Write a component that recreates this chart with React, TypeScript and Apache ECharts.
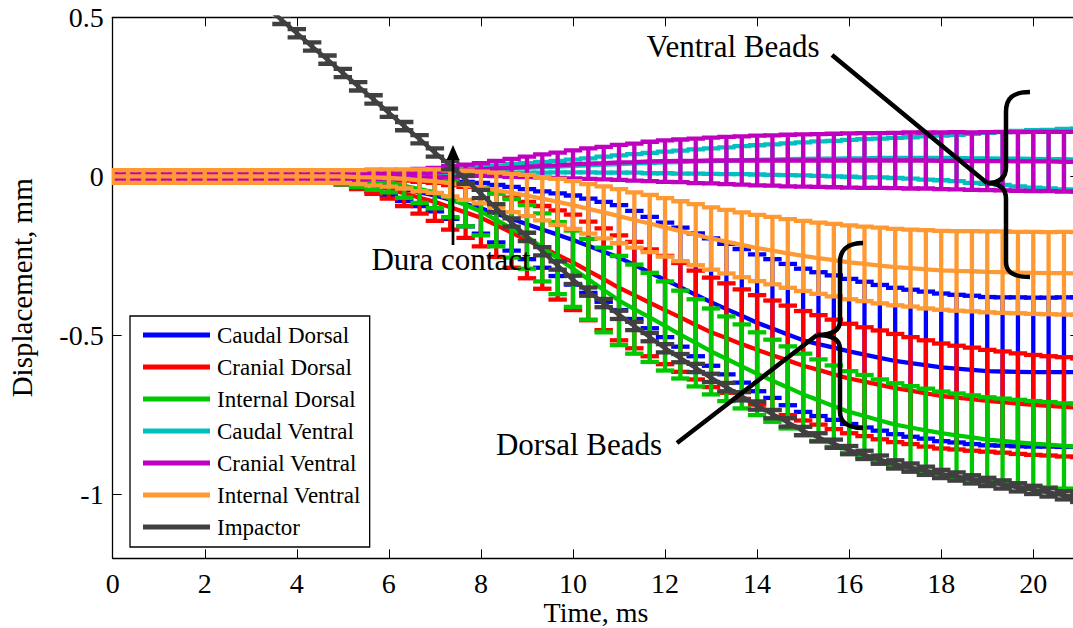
import React, { useEffect, useRef } from "react";
import * as echarts from "echarts";

const FONT = "Liberation Serif";

const TIME = [
  0, 0.333, 0.667, 1, 1.333, 1.667, 2, 2.333, 2.667, 3, 3.333, 3.667,
  4, 4.333, 4.667, 5, 5.333, 5.667, 6, 6.333, 6.667, 7, 7.333, 7.667,
  8, 8.333, 8.667, 9, 9.333, 9.667, 10, 10.333, 10.667, 11, 11.333, 11.667,
  12, 12.333, 12.667, 13, 13.333, 13.667, 14, 14.333, 14.667, 15, 15.333, 15.667,
  16, 16.333, 16.667, 17, 17.333, 17.667, 18, 18.333, 18.667, 19, 19.333, 19.667,
  20, 20.333, 20.667, 21,
];

const CAUDAL_DORSAL_MEAN = [
  0, 0, 0, 0, 0, 0, 0, 0, 0, 0, 0, 0,
  0, -0.003, -0.006, -0.01, -0.016, -0.023, -0.03, -0.04, -0.05, -0.06, -0.073, -0.087,
  -0.1, -0.117, -0.133, -0.15, -0.167, -0.183, -0.2, -0.218, -0.237, -0.255, -0.278, -0.302,
  -0.325, -0.348, -0.372, -0.395, -0.417, -0.438, -0.46, -0.478, -0.497, -0.515, -0.527, -0.538,
  -0.55, -0.56, -0.57, -0.58, -0.587, -0.593, -0.6, -0.604, -0.608, -0.612, -0.613, -0.614,
  -0.615, -0.615, -0.615, -0.615,
];
const CAUDAL_DORSAL_SD = [
  0.01, 0.01, 0.01, 0.01, 0.01, 0.01, 0.01, 0.01, 0.01, 0.01, 0.01, 0.01,
  0.01, 0.012, 0.013, 0.015, 0.02, 0.025, 0.03, 0.037, 0.043, 0.05, 0.06, 0.07,
  0.08, 0.09, 0.1, 0.11, 0.12, 0.13, 0.14, 0.148, 0.157, 0.165, 0.17, 0.175,
  0.18, 0.187, 0.193, 0.2, 0.205, 0.21, 0.215, 0.218, 0.222, 0.225, 0.226, 0.227,
  0.228, 0.229, 0.229, 0.23, 0.231, 0.231, 0.232, 0.232, 0.233, 0.233, 0.233, 0.234,
  0.234, 0.234, 0.235, 0.235,
];

const CRANIAL_DORSAL_MEAN = [
  0, 0, 0, 0, 0, 0, 0, 0, 0, 0, 0, 0,
  0, -0.003, -0.006, -0.01, -0.02, -0.03, -0.04, -0.053, -0.067, -0.08, -0.097, -0.113,
  -0.13, -0.153, -0.177, -0.2, -0.223, -0.247, -0.27, -0.297, -0.323, -0.35, -0.373, -0.397,
  -0.42, -0.443, -0.467, -0.49, -0.508, -0.527, -0.545, -0.562, -0.578, -0.595, -0.608, -0.622,
  -0.635, -0.645, -0.655, -0.665, -0.673, -0.682, -0.69, -0.695, -0.7, -0.705, -0.709, -0.714,
  -0.718, -0.721, -0.724, -0.727,
];
const CRANIAL_DORSAL_SD = [
  0.01, 0.01, 0.01, 0.01, 0.01, 0.01, 0.01, 0.01, 0.01, 0.01, 0.01, 0.01,
  0.01, 0.012, 0.013, 0.015, 0.02, 0.025, 0.03, 0.04, 0.05, 0.06, 0.07, 0.08,
  0.09, 0.1, 0.11, 0.12, 0.13, 0.14, 0.15, 0.155, 0.16, 0.165, 0.167, 0.168,
  0.17, 0.171, 0.171, 0.172, 0.172, 0.172, 0.172, 0.172, 0.172, 0.172, 0.172, 0.172,
  0.172, 0.171, 0.171, 0.17, 0.168, 0.167, 0.165, 0.163, 0.162, 0.16, 0.159, 0.158,
  0.157, 0.156, 0.156, 0.155,
];

const INTERNAL_DORSAL_MEAN = [
  0, 0, 0, 0, 0, 0, 0, 0, 0, 0, 0, 0,
  0, -0.002, -0.003, -0.005, -0.01, -0.015, -0.02, -0.03, -0.04, -0.05, -0.07, -0.09,
  -0.11, -0.137, -0.163, -0.19, -0.223, -0.257, -0.29, -0.323, -0.357, -0.39, -0.417, -0.443,
  -0.47, -0.497, -0.523, -0.55, -0.573, -0.597, -0.62, -0.642, -0.663, -0.685, -0.703, -0.722,
  -0.74, -0.753, -0.767, -0.78, -0.789, -0.798, -0.807, -0.814, -0.82, -0.827, -0.831, -0.836,
  -0.84, -0.843, -0.847, -0.85,
];
const INTERNAL_DORSAL_SD = [
  0.01, 0.01, 0.01, 0.01, 0.01, 0.01, 0.01, 0.01, 0.01, 0.01, 0.01, 0.01,
  0.01, 0.013, 0.017, 0.02, 0.023, 0.027, 0.03, 0.037, 0.043, 0.05, 0.058, 0.067,
  0.075, 0.083, 0.092, 0.1, 0.107, 0.113, 0.12, 0.127, 0.133, 0.14, 0.14, 0.14,
  0.14, 0.138, 0.137, 0.135, 0.133, 0.132, 0.13, 0.129, 0.129, 0.128, 0.128, 0.128,
  0.128, 0.129, 0.129, 0.13, 0.13, 0.131, 0.131, 0.132, 0.132, 0.133, 0.133, 0.134,
  0.134, 0.134, 0.134, 0.134,
];

const CAUDAL_VENTRAL_MEAN = [
  0, 0, 0, 0, 0, 0, 0, 0, 0, 0, 0, 0,
  0, 0, 0, 0, 0.002, 0.003, 0.005, 0.007, 0.01, 0.012, 0.015, 0.017,
  0.02, 0.022, 0.025, 0.027, 0.029, 0.031, 0.033, 0.035, 0.037, 0.039, 0.041, 0.042,
  0.044, 0.045, 0.047, 0.048, 0.049, 0.051, 0.052, 0.053, 0.054, 0.055, 0.056, 0.056,
  0.057, 0.057, 0.058, 0.058, 0.058, 0.058, 0.058, 0.058, 0.057, 0.057, 0.056, 0.056,
  0.055, 0.054, 0.054, 0.053,
];
const CAUDAL_VENTRAL_SD = [
  0.008, 0.008, 0.008, 0.008, 0.008, 0.008, 0.008, 0.008, 0.008, 0.008, 0.008, 0.008,
  0.008, 0.008, 0.008, 0.008, 0.008, 0.008, 0.008, 0.009, 0.009, 0.01, 0.011, 0.011,
  0.012, 0.013, 0.014, 0.015, 0.017, 0.018, 0.02, 0.022, 0.025, 0.027, 0.029, 0.032,
  0.034, 0.036, 0.038, 0.04, 0.042, 0.044, 0.046, 0.048, 0.05, 0.052, 0.054, 0.056,
  0.058, 0.06, 0.061, 0.063, 0.065, 0.068, 0.07, 0.073, 0.077, 0.08, 0.083, 0.087,
  0.09, 0.092, 0.095, 0.097,
];

const CRANIAL_VENTRAL_MEAN = [
  0, 0, 0, 0, 0, 0, 0, 0, 0, 0, 0, 0,
  0, 0, 0, 0, 0.002, 0.003, 0.005, 0.007, 0.01, 0.012, 0.015, 0.019,
  0.022, 0.025, 0.027, 0.03, 0.033, 0.035, 0.038, 0.04, 0.042, 0.044, 0.045, 0.047,
  0.048, 0.049, 0.049, 0.05, 0.05, 0.05, 0.05, 0.05, 0.05, 0.05, 0.05, 0.05,
  0.05, 0.05, 0.05, 0.05, 0.05, 0.05, 0.049, 0.049, 0.048, 0.048, 0.048, 0.047,
  0.047, 0.047, 0.046, 0.046,
];
const CRANIAL_VENTRAL_SD = [
  0.01, 0.01, 0.01, 0.01, 0.01, 0.01, 0.01, 0.01, 0.01, 0.01, 0.01, 0.01,
  0.01, 0.01, 0.01, 0.01, 0.011, 0.011, 0.012, 0.013, 0.014, 0.015, 0.017, 0.018,
  0.02, 0.024, 0.028, 0.032, 0.036, 0.04, 0.044, 0.048, 0.051, 0.055, 0.058, 0.062,
  0.065, 0.067, 0.07, 0.072, 0.074, 0.076, 0.078, 0.079, 0.081, 0.082, 0.083, 0.084,
  0.085, 0.086, 0.086, 0.087, 0.088, 0.088, 0.089, 0.09, 0.09, 0.091, 0.092, 0.092,
  0.093, 0.093, 0.094, 0.094,
];

const INTERNAL_VENTRAL_MEAN = [
  0, 0, 0, 0, 0, 0, 0, 0, 0, 0, 0, 0,
  0, 0, 0, 0, -0.002, -0.003, -0.005, -0.008, -0.012, -0.015, -0.022, -0.028,
  -0.035, -0.043, -0.052, -0.06, -0.07, -0.08, -0.09, -0.102, -0.113, -0.125, -0.137, -0.148,
  -0.16, -0.172, -0.183, -0.195, -0.205, -0.215, -0.225, -0.233, -0.242, -0.25, -0.257, -0.263,
  -0.27, -0.275, -0.28, -0.285, -0.288, -0.292, -0.295, -0.297, -0.298, -0.3, -0.301, -0.302,
  -0.303, -0.304, -0.304, -0.305,
];
const INTERNAL_VENTRAL_SD = [
  0.02, 0.02, 0.02, 0.02, 0.02, 0.02, 0.02, 0.02, 0.02, 0.02, 0.02, 0.02,
  0.02, 0.02, 0.02, 0.02, 0.022, 0.025, 0.027, 0.03, 0.034, 0.037, 0.041, 0.046,
  0.05, 0.055, 0.06, 0.065, 0.068, 0.072, 0.075, 0.078, 0.082, 0.085, 0.087, 0.09,
  0.092, 0.094, 0.096, 0.098, 0.1, 0.102, 0.104, 0.106, 0.108, 0.11, 0.112, 0.114,
  0.116, 0.117, 0.119, 0.12, 0.121, 0.123, 0.124, 0.125, 0.126, 0.127, 0.128, 0.128,
  0.129, 0.129, 0.13, 0.13,
];

const IMPACTOR_MEAN = [
  null, null, null, null, null, null, null, null, null, 0.575, 0.533, 0.492,
  0.45, 0.408, 0.367, 0.325, 0.283, 0.242, 0.2, 0.158, 0.117, 0.075, 0.035, -0.01,
  -0.055, -0.1, -0.145, -0.19, -0.235, -0.28, -0.325, -0.362, -0.398, -0.435, -0.47, -0.505,
  -0.54, -0.571, -0.602, -0.633, -0.662, -0.691, -0.72, -0.747, -0.773, -0.8, -0.82, -0.84,
  -0.86, -0.875, -0.89, -0.905, -0.915, -0.925, -0.935, -0.943, -0.952, -0.96, -0.968, -0.977,
  -0.985, -0.993, -1.002, -1.01,
];
const IMPACTOR_SD = [
  0.013, 0.013, 0.013, 0.013, 0.013, 0.013, 0.013, 0.013, 0.013, 0.013, 0.013, 0.013,
  0.013, 0.013, 0.013, 0.013, 0.013, 0.013, 0.013, 0.013, 0.013, 0.013, 0.013, 0.013,
  0.013, 0.013, 0.013, 0.013, 0.013, 0.013, 0.013, 0.013, 0.013, 0.013, 0.013, 0.013,
  0.013, 0.013, 0.013, 0.013, 0.013, 0.013, 0.013, 0.013, 0.013, 0.013, 0.013, 0.013,
  0.013, 0.013, 0.013, 0.013, 0.013, 0.013, 0.013, 0.013, 0.013, 0.013, 0.013, 0.013,
  0.013, 0.013, 0.013, 0.013,
];

const X_TICKS = [0, 2, 4, 6, 8, 10, 12, 14, 16, 18, 20];
const Y_TICKS = [-1, -0.5, 0, 0.5];

const GROUPS = [
  { name: "Caudal Dorsal", color: "#0000FF", mean: CAUDAL_DORSAL_MEAN, sd: CAUDAL_DORSAL_SD },
  { name: "Cranial Dorsal", color: "#FF0000", mean: CRANIAL_DORSAL_MEAN, sd: CRANIAL_DORSAL_SD },
  { name: "Internal Dorsal", color: "#00C800", mean: INTERNAL_DORSAL_MEAN, sd: INTERNAL_DORSAL_SD },
  { name: "Caudal Ventral", color: "#00BFBF", mean: CAUDAL_VENTRAL_MEAN, sd: CAUDAL_VENTRAL_SD },
  { name: "Cranial Ventral", color: "#BF00BF", mean: CRANIAL_VENTRAL_MEAN, sd: CRANIAL_VENTRAL_SD },
  { name: "Internal Ventral", color: "#FF9933", mean: INTERNAL_VENTRAL_MEAN, sd: INTERNAL_VENTRAL_SD },
  { name: "Impactor", color: "#404040", mean: IMPACTOR_MEAN, sd: IMPACTOR_SD },
];

const LW = 4.3;
const CAP_HALF = 0.2; // ms

echarts.graphic.registerShape(
  "ventralBrace",
  echarts.graphic.extendPath(
    "M832,55 L987,183 M1030,92 C1013,92 1006,98 1006,112 L1006,167 C1006,177 1000,183 987,183 C1000,183 1006,189 1006,199 L1006,262 C1006,272 1013,277 1030,277",
    {}
  )
);
echarts.graphic.registerShape(
  "dorsalBrace",
  echarts.graphic.extendPath(
    "M677,443 L817,335 M863,243 C848,243 840,250 840,262 L840,321 C840,330 833,335 817,335 C833,335 840,340 840,349 L840,412 C840,422 848,428 863,428",
    {}
  )
);

export default function App() {
  const ref = useRef<HTMLDivElement>(null);
  useEffect(() => {
    if (!ref.current) return;
    const chart = echarts.init(ref.current, null, { renderer: "svg" });
    const series: any[] = [];
    GROUPS.forEach((g, k) => {
      const rows: number[][] = [];
      TIME.forEach((t, i) => {
        if (g.mean[i] !== null && g.mean[i] !== undefined) rows.push([t, g.mean[i] as number, g.sd[i]]);
      });
      series.push({
        type: "custom",
        name: g.name + " SD",
        z: 10 + k * 2,
        clip: true,
        silent: true,
        encode: { x: 0, y: 1 },
        data: rows,
        renderItem: (params: any, api: any) => {
          const t = api.value(0);
          const m = api.value(1);
          const s = api.value(2);
          const hi = api.coord([t, m + s]);
          const lo = api.coord([t, m - s]);
          const hw = api.size([CAP_HALF, 0])[0];
          const style = { stroke: g.color, lineWidth: LW, fill: null };
          return {
            type: "group",
            children: [
              { type: "line", shape: { x1: hi[0], y1: hi[1], x2: lo[0], y2: lo[1] }, style },
              { type: "line", shape: { x1: hi[0] - hw, y1: hi[1], x2: hi[0] + hw, y2: hi[1] }, style },
              { type: "line", shape: { x1: lo[0] - hw, y1: lo[1], x2: lo[0] + hw, y2: lo[1] }, style },
            ],
          };
        },
      });
      series.push({
        type: "line",
        name: g.name,
        z: 11 + k * 2,
        color: g.color,
        showSymbol: false,
        silent: true,
        clip: true,
        lineStyle: { color: g.color, width: LW },
        data: rows.map((r) => [r[0], r[1]]),
      });
    });

    const axisText = { fontFamily: FONT, fontSize: 28, color: "#000" };
    const axisLine = { show: true, onZero: false, lineStyle: { color: "#000", width: 1.3 } };
    const tick = (vals: number[]) => ({
      inside: true,
      length: 9,
      customValues: vals,
      lineStyle: { color: "#000", width: 1 },
    });

    chart.setOption({
      animation: false,
      backgroundColor: "#fff",
      grid: {
        left: 112.7,
        top: 17.3,
        width: 966.6,
        height: 541,
        containLabel: false,
        outerBoundsMode: "none",
      },
      xAxis: [
        {
          type: "value",
          position: "bottom",
          min: 0,
          max: 21,
          axisLine,
          axisTick: tick(X_TICKS),
          axisLabel: { ...axisText, margin: 11, customValues: X_TICKS },
          splitLine: { show: false },
          name: "Time, ms",
          nameLocation: "middle",
          nameGap: 40,
          nameMoveOverlap: false,
          nameTextStyle: { fontFamily: FONT, fontSize: 28, color: "#000" },
        },
        {
          type: "value",
          position: "top",
          min: 0,
          max: 21,
          axisLine,
          axisTick: tick(X_TICKS),
          axisLabel: { show: false },
          splitLine: { show: false },
        },
      ],
      yAxis: [
        {
          type: "value",
          position: "left",
          min: -1.2,
          max: 0.5,
          axisLine,
          axisTick: tick(Y_TICKS),
          axisLabel: { ...axisText, margin: 9, customValues: Y_TICKS },
          splitLine: { show: false },
          name: "Displacement, mm",
          nameLocation: "middle",
          nameGap: 76,
          nameMoveOverlap: false,
          nameTextStyle: { fontFamily: FONT, fontSize: 29, color: "#000" },
        },
        {
          type: "value",
          position: "right",
          min: -1.2,
          max: 0.5,
          axisLine,
          axisTick: tick(Y_TICKS),
          axisLabel: { show: false },
          splitLine: { show: false },
        },
      ],
      legend: {
        data: GROUPS.map((g) => g.name),
        orient: "vertical",
        left: 130,
        top: 316,
        icon: "rect",
        itemWidth: 67,
        itemHeight: 5,
        itemGap: 8,
        padding: [7, 9, 8, 13],
        borderColor: "#000",
        borderWidth: 1.3,
        borderRadius: 0,
        backgroundColor: "#fff",
        selectedMode: false,
        z: 50,
        textStyle: { fontFamily: FONT, fontSize: 23, color: "#000", lineHeight: 24, padding: [0, 0, 0, 2] },
      },
      graphic: [
        {
          type: "text",
          z: 100,
          silent: true,
          x: 451,
          y: 259.5,
          style: { text: "Dura contact", fontFamily: FONT, fontSize: 31, fill: "#000", textAlign: "center", textVerticalAlign: "middle" },
        },
        {
          type: "line",
          z: 100,
          silent: true,
          shape: { x1: 453, y1: 245, x2: 453, y2: 158 },
          style: { stroke: "#000", lineWidth: 2.7 },
        },
        {
          type: "polygon",
          z: 100,
          silent: true,
          shape: { points: [[453, 145], [446.5, 160], [459.5, 160]] },
          style: { fill: "#000" },
        },
        {
          type: "text",
          z: 100,
          silent: true,
          x: 733,
          y: 46.2,
          style: { text: "Ventral Beads", fontFamily: FONT, fontSize: 31, fill: "#000", textAlign: "center", textVerticalAlign: "middle" },
        },
        {
          type: "text",
          z: 100,
          silent: true,
          x: 579,
          y: 444.5,
          style: { text: "Dorsal Beads", fontFamily: FONT, fontSize: 31, fill: "#000", textAlign: "center", textVerticalAlign: "middle" },
        },
        {
          type: "ventralBrace",
          z: 100,
          silent: true,
          x: 0,
          y: 0,
          scaleX: 1,
          scaleY: 1,
          style: { stroke: "#000", fill: "none", lineWidth: 4.5 },
        },
        {
          type: "dorsalBrace",
          z: 100,
          silent: true,
          x: 0,
          y: 0,
          scaleX: 1,
          scaleY: 1,
          style: { stroke: "#000", fill: "none", lineWidth: 4.5 },
        },
      ],
      series,
    });
    return () => chart.dispose();
  }, []);
  return (
    <div
      ref={ref}
      style={{ position: "fixed", left: 0, top: 0, width: 1073, height: 628, background: "#fff" }}
    />
  );
}
